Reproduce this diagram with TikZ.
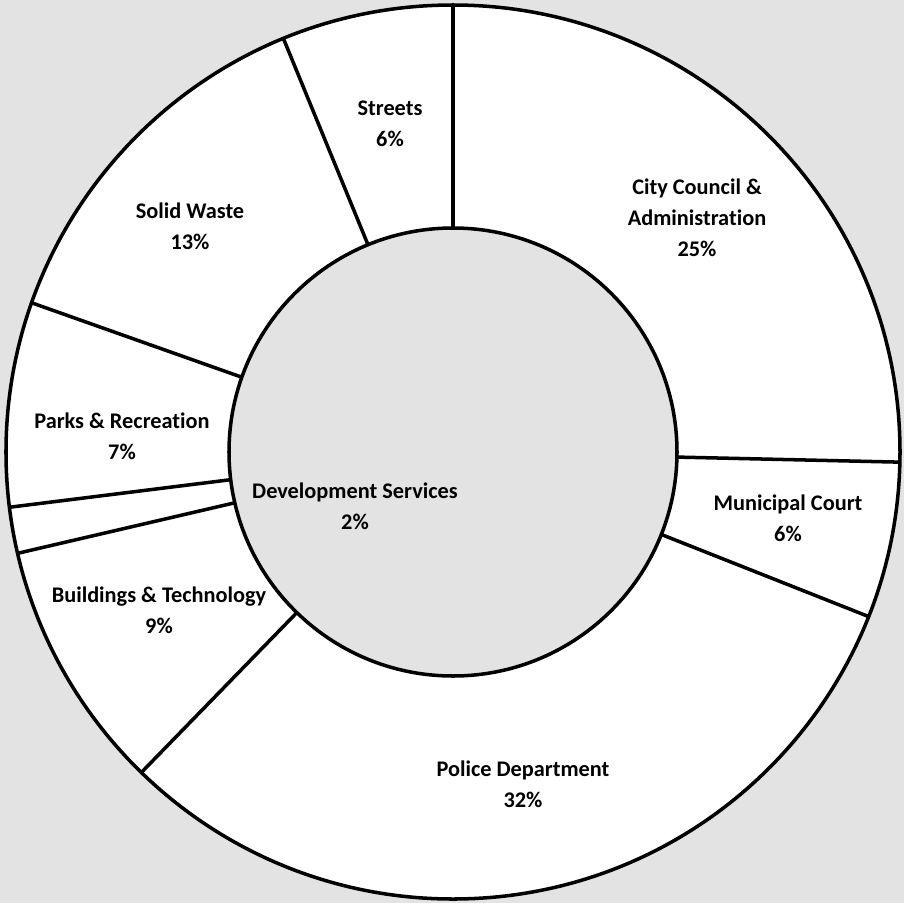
\documentclass[tikz,border=0pt]{standalone}
\usepackage{fontspec}
\setmainfont{Carlito}[Ligatures=NoCommon]
\usetikzlibrary{backgrounds}

\begin{document}
\begin{tikzpicture}[line width=2pt,
		lbl/.style={align=center,inner sep=0pt,font=\bfseries\fontsize{12.7}{17.6}\selectfont}]
		\fill[black!11] (-9.06,-9.02) rectangle (9.02,9.04);
		\useasboundingbox (-9.06,-9.02) rectangle (9.02,9.04);

		\draw[fill=white] (0,0) circle (8.94);
		\draw[fill=black!11] (0,0) circle (4.48);

		% slice borders
		\foreach \a in {90,-1.3,-21.6,-134.2,-166.9,-172.9,-199.5,-247.7}
			\draw (\a:4.48) -- (\a:8.94);

		\node[lbl] (streets) at (-1.26,6.56) {Streets\\6\%};
		\node[lbl] (council) at (4.88,4.68) {City Council \&\\Administration\\25\%};
		\node[lbl] (waste) at (-5.26,4.52) {Solid Waste\\13\%};
		\node[lbl] (parks) at (-6.62,0.32) {Parks \& Recreation\\7\%};
		\node[lbl] (devsvc) at (-1.96,-1.08) {Development Services\\2\%};
		\node[lbl] (court) at (6.70,-1.32) {Municipal Court\\6\%};
		\node[lbl] (bldg) at (-5.88,-3.16) {Buildings \& Technology\\9\%};
		\node[lbl] (police) at (1.40,-6.64) {Police Department\\32\%};
	\end{tikzpicture}
\end{document}
